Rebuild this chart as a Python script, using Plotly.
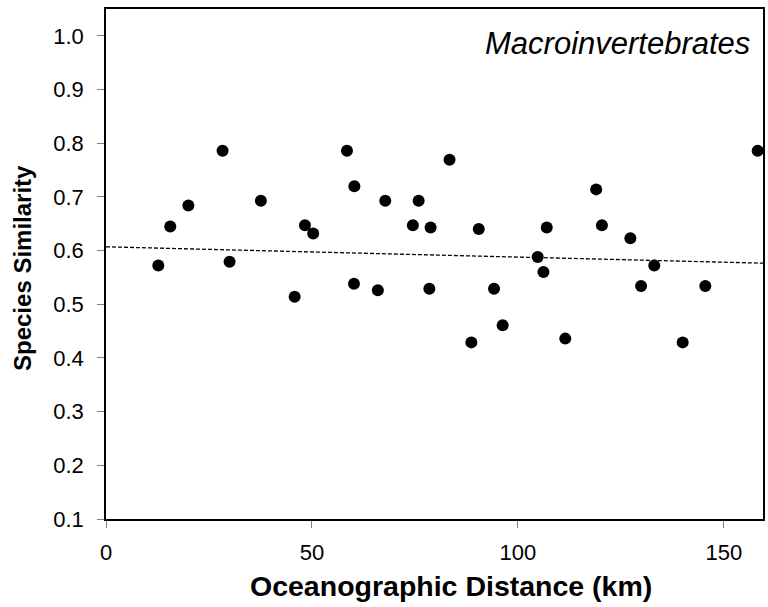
import plotly.graph_objects as go

# Data
distance_km = [12.7, 15.6, 20.0, 28.3, 30.0, 37.6, 45.8, 48.3, 50.3, 58.5,
               60.3, 60.2, 66.0, 67.8, 74.5, 75.9, 78.8, 78.5, 83.4, 90.5,
               88.7, 94.2, 96.3, 104.8, 106.2, 107.0, 111.5, 119.0, 120.4, 127.3,
               129.9, 133.1, 140.0, 145.5, 158.2]
similarity = [0.572, 0.645, 0.684, 0.786, 0.579, 0.693, 0.514, 0.647, 0.632, 0.786,
              0.720, 0.538, 0.526, 0.693, 0.647, 0.693, 0.643, 0.529, 0.769, 0.640,
              0.429, 0.529, 0.461, 0.588, 0.560, 0.643, 0.436, 0.714, 0.647, 0.623,
              0.534, 0.572, 0.429, 0.534, 0.786]

trend_intercept = 0.607
trend_slope = -0.000191
trend_x = [0.0, 159.5]
trend_y = [trend_intercept + trend_slope * v for v in trend_x]

x_ticks = [0, 50, 100, 150]
y_ticks = [0.1, 0.2, 0.3, 0.4, 0.5, 0.6, 0.7, 0.8, 0.9, 1.0]
y_tick_labels = ["0.1", "0.2", "0.3", "0.4", "0.5", "0.6", "0.7", "0.8", "0.9", "1.0"]

FONT = "Liberation Sans, Arial, sans-serif"

fig = go.Figure()
fig.add_trace(go.Scatter(
    x=trend_x, y=trend_y, mode="lines",
    line=dict(color="black", width=1.3, dash="4px,2px"),
    showlegend=False, hoverinfo="skip"))
fig.add_trace(go.Scatter(
    x=distance_km, y=similarity, mode="markers",
    marker=dict(color="black", size=12, line=dict(width=0)),
    showlegend=False))

axis_common = dict(
    showline=True, linecolor="black", linewidth=1.5, mirror=True,
    showgrid=False, zeroline=False,
    ticks="outside", ticklen=7, tickwidth=1, tickcolor="#808080",
    tickfont=dict(family=FONT, size=22, color="black"),
)

fig.update_xaxes(
    range=[0, 159.5], tickvals=x_ticks, ticktext=[str(v) for v in x_ticks],
    ticklabelstandoff=6,
    **axis_common)
fig.update_yaxes(
    range=[0.1, 1.05], tickvals=y_ticks, ticktext=y_tick_labels,
    ticklabelstandoff=9,
    **axis_common)

# Axis titles
fig.add_annotation(
    x=0.5, y=0, xref="paper", yref="paper", xanchor="center", yanchor="middle",
    xshift=16, yshift=-67,
    text="<b>Oceanographic Distance (km)</b>", showarrow=False,
    font=dict(family=FONT, size=28.5, color="black"))
fig.add_annotation(
    x=0, y=0.5, xref="paper", yref="paper", xanchor="center", yanchor="middle",
    xshift=-84, yshift=-4, textangle=-90,
    text="<b>Species Similarity</b>", showarrow=False,
    font=dict(family=FONT, size=24, color="black"))

fig.add_annotation(
    x=1, y=1, xref="paper", yref="paper", xanchor="right", yanchor="top",
    xshift=-11, yshift=-15,
    text="<i>Macroinvertebrates</i>", showarrow=False,
    font=dict(family=FONT, size=31, color="black"))

fig.update_layout(
    width=768, height=607,
    margin=dict(l=106, r=3, t=9, b=88),
    plot_bgcolor="white", paper_bgcolor="white",
)

fig.write_html("out.html")
